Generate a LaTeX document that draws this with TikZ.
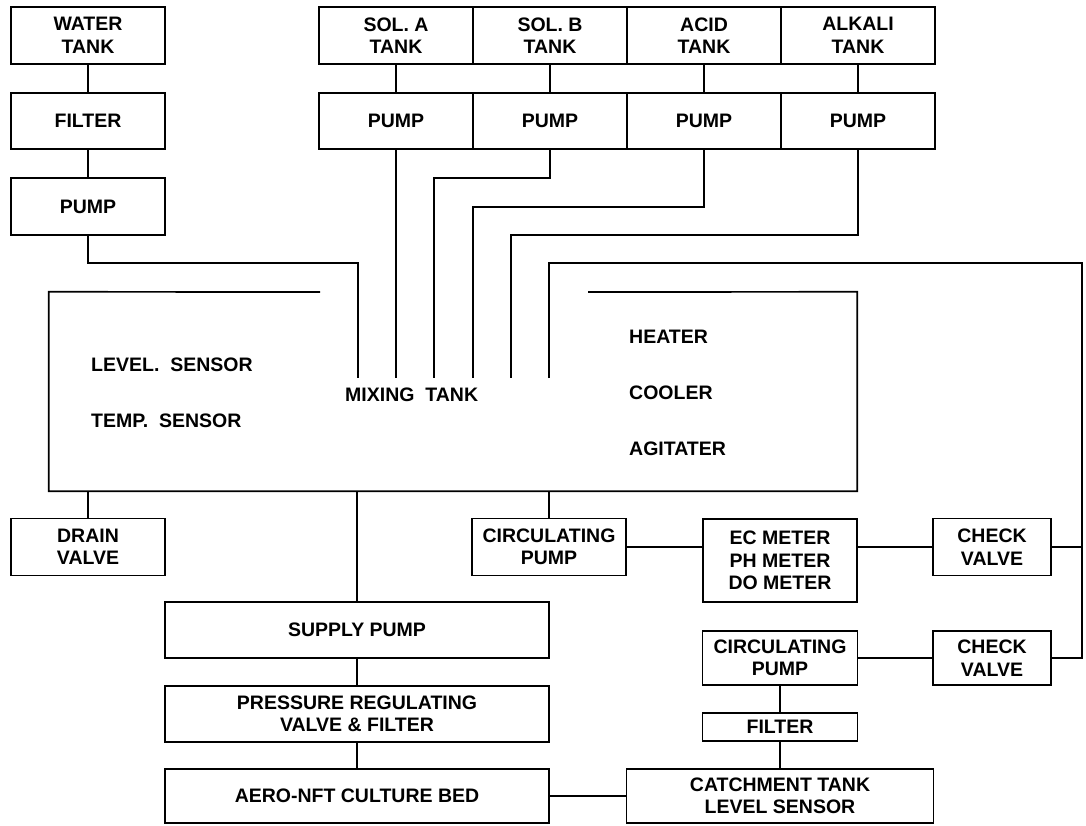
\documentclass[tikz,border=0pt]{standalone}
\usepackage{fontspec}
\setmainfont{Liberation Sans}
\begin{document}
\begin{tikzpicture}[x=1pt,y=-1pt,
  lw/.style={line width=1.7pt},
  box/.style={draw,lw,rectangle,inner sep=0pt,align=center,
     font=\fontsize{19.5}{22.5}\selectfont\bfseries},
  lbl/.style={inner sep=0pt,anchor=west,font=\fontsize{19.5}{22.5}\selectfont\bfseries},
  pipe/.style={lw}]
\useasboundingbox (0,0) rectangle (1086,825);
% left column
\node[box,minimum width=154pt,minimum height=57pt] (wt) at (88,35.5) {WATER\\TANK};
\node[box,minimum width=154pt,minimum height=56pt] (wf) at (88,121) {FILTER};
\node[box,minimum width=154pt,minimum height=57pt] (wp) at (88,206.5) {PUMP};
% tanks
\node[box,minimum width=154pt,minimum height=57pt] (ta) at (396,35.5) {SOL. A\\TANK};
\node[box,minimum width=154pt,minimum height=57pt] (tb) at (550,35.5) {SOL. B\\TANK};
\node[box,minimum width=154pt,minimum height=57pt] (tc) at (704,35.5) {ACID\\TANK};
\node[box,minimum width=154pt,minimum height=57pt] (td) at (858,35.5) {ALKALI\\TANK};
\node[box,minimum width=154pt,minimum height=56pt] (pa) at (396,121) {PUMP};
\node[box,minimum width=154pt,minimum height=56pt] (pb) at (550,121) {PUMP};
\node[box,minimum width=154pt,minimum height=56pt] (pc) at (704,121) {PUMP};
\node[box,minimum width=154pt,minimum height=56pt] (pd) at (858,121) {PUMP};
% mixing tank outline (gap in top edge)
\node[inner sep=0pt,minimum width=808pt,minimum height=199pt] (mt) at (453,391.5) {};
\draw[pipe] (320,292) -- (mt.north west) -- (mt.south west) -- (mt.south east) -- (mt.north east) -- (588,292);
\node[lbl] (ls) at (91,365) {LEVEL.\ \ SENSOR};
\node[lbl] (ts) at (91,421) {TEMP.\ \ SENSOR};
\node[lbl] (mx) at (345,395) {MIXING\ \ TANK};
\node[lbl] (ht) at (629,337) {HEATER};
\node[lbl] (cl) at (629,393) {COOLER};
\node[lbl] (ag) at (629,449) {AGITATER};
% pipe ends inside tank
\coordinate (e1) at (358,378);
\coordinate (e2) at (396,378);
\coordinate (e3) at (434,378);
\coordinate (e4) at (473,378);
\coordinate (e5) at (511,378);
\coordinate (e6) at (549,378);
\coordinate (rr) at (1082,263);
% lower boxes
\node[box,minimum width=154pt,minimum height=57pt] (dv) at (88,547) {DRAIN\\VALVE};
\node[box,minimum width=154pt,minimum height=57pt] (cp1) at (549,547) {CIRCULATING\\PUMP};
\node[box,minimum width=154pt,minimum height=83pt] (ec) at (780,560.5) {EC METER\\PH METER\\DO METER};
\node[box,minimum width=118pt,minimum height=57pt] (cv1) at (992,547) {CHECK\\VALVE};
\node[box,minimum width=384pt,minimum height=56pt] (sp) at (357,630) {SUPPLY PUMP};
\node[box,minimum width=384pt,minimum height=56pt] (pr) at (357,714) {PRESSURE REGULATING\\VALVE \& FILTER};
\node[box,minimum width=384pt,minimum height=54pt] (ab) at (357,796) {AERO-NFT CULTURE BED};
\node[box,minimum width=155pt,minimum height=54pt] (cp2) at (780,658) {CIRCULATING\\PUMP};
\node[box,minimum width=118pt,minimum height=54pt] (cv2) at (992,658) {CHECK\\VALVE};
\node[box,minimum width=155pt,minimum height=28pt] (f2) at (780,727) {FILTER};
\node[box,minimum width=307pt,minimum height=54pt] (ct) at (780,796) {CATCHMENT TANK\\LEVEL SENSOR};
% connectors top
\draw[pipe] (wt) -- (wf);
\draw[pipe] (wf) -- (wp);
\draw[pipe] (wp.south) -- (88,263) -- (358,263) -- (e1);
\draw[pipe] (ta) -- (pa);
\draw[pipe] (tb) -- (pb);
\draw[pipe] (tc) -- (pc);
\draw[pipe] (td) -- (pd);
\draw[pipe] (pa.south) -- (e2);
\draw[pipe] (pb.south) -- (550,178) -- (434,178) -- (e3);
\draw[pipe] (pc.south) -- (704,207) -- (473,207) -- (e4);
\draw[pipe] (pd.south) -- (858,235) -- (511,235) -- (e5);
\draw[pipe] (e6) -- (549,263) -- (rr) |- (cv2.east);
\draw[pipe] (cv1.east) -- (cv1.east -| rr);
% connectors bottom
\draw[pipe] (88,491) -- (dv.north);
\draw[pipe] (357,491) -- (sp.north);
\draw[pipe] (549,491) -- (cp1.north);
\draw[pipe] (cp1.east) -- (cp1.east -| ec.west);
\draw[pipe] (cv1.west -| ec.east) -- (cv1.west);
\draw[pipe] (sp) -- (pr);
\draw[pipe] (pr) -- (ab);
\draw[pipe] (ab) -- (ct);
\draw[pipe] (cp2) -- (cv2);
\draw[pipe] (cp2) -- (f2);
\draw[pipe] (f2) -- (ct);
\end{tikzpicture}
\end{document}
